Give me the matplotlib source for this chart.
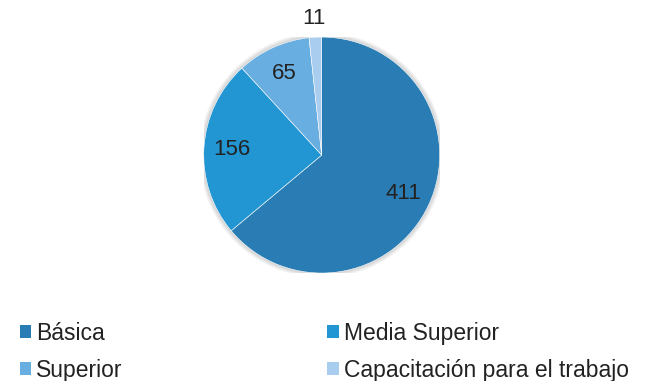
import numpy as np
import matplotlib.pyplot as plt
from matplotlib.patches import Patch, Circle

plt.rcParams['font.family'] = ['Liberation Sans', 'DejaVu Sans']

categories = ['Básica', 'Media Superior', 'Superior', 'Capacitación para el trabajo']
values = [411, 156, 65, 11]
colors = ['#2A7DB4', '#2196D3', '#68AEE0', '#A9CDEE']

fig = plt.figure(figsize=(6.46, 3.81), dpi=100)
ax = fig.add_axes([0.498 - 0.1827, 0.593 - 0.3097, 0.3654, 0.6194])

# soft halo behind the pie
for k in range(1, 6):
    ax.add_patch(Circle((0, 0), 1 + 0.008 * k, color='#000000', alpha=0.035, zorder=0, lw=0))

wedges, texts = ax.pie(values, colors=colors, startangle=90, counterclock=False,
                       labels=[str(v) for v in values], labeldistance=0.76,
                       wedgeprops=dict(linewidth=0.4, edgecolor='white'),
                       textprops=dict(fontsize=16, color='#222222', ha='center', va='center'))
ax.set_xlim(-1, 1)
ax.set_ylim(-1, 1)
ax.set_aspect('equal')

# small slice: label outside
w = wedges[-1]
ang = np.deg2rad((w.theta1 + w.theta2) / 2)
texts[-1].set_position((1.16 * np.cos(ang), 1.16 * np.sin(ang)))
texts[-1].set_ha('center')
texts[-1].set_clip_on(False)

handles = [Patch(facecolor=c, edgecolor='none') for c in colors]
order = [0, 2, 1, 3]
fig.legend([handles[i] for i in order], [categories[i] for i in order],
           ncol=2, loc='upper left', bbox_to_anchor=(0.016, 0.18),
           borderaxespad=0, frameon=False, fontsize=16.5,
           handlelength=0.52, handleheight=0.52, handletextpad=0.22,
           columnspacing=8.9, labelspacing=0.62, labelcolor='#222222')

fig.savefig('out.png', dpi=100)
